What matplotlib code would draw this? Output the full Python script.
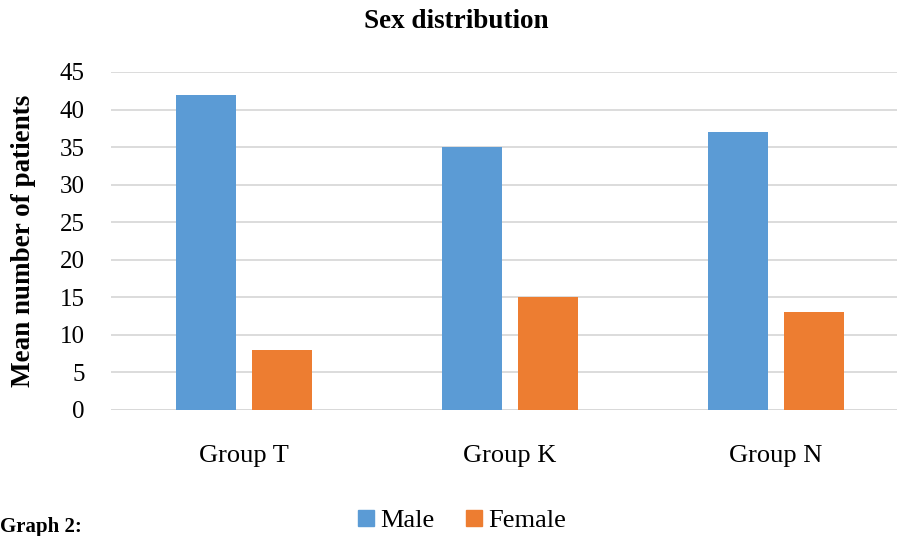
import numpy as np
import matplotlib.pyplot as plt
from matplotlib.patches import Patch

groups = ['Group T', 'Group K', 'Group N']
male = [42, 35, 37]
female = [8, 15, 13]

plt.rcParams['font.family'] = ['Liberation Serif', 'DejaVu Serif']

fig = plt.figure(figsize=(8.97, 5.36), dpi=100)
ax = fig.add_axes([111/897, 126/536, 798/897, 338/536])

x = np.arange(len(groups))
w = 0.229
off = 0.143
ax.bar(x - off, male, w, color='#5B9BD5', zorder=3)
ax.bar(x + off, female, w, color='#ED7D31', zorder=3)

ax.set_xlim(-0.5, 2.5)
ax.set_ylim(0, 45)
ax.set_yticks(range(0, 46, 5))
ax.set_xticks(x)
ax.set_xticklabels(groups, fontsize=19)
ax.tick_params(axis='y', labelsize=18, length=0, pad=19)
ax.tick_params(axis='x', length=0, pad=25)
ax.grid(axis='y', color='#D9D9D9', linewidth=1.3, zorder=0)
for s in ax.spines.values():
    s.set_visible(False)
ax.axhline(0, color='#D9D9D9', linewidth=1.3, zorder=1)

fig.text(456/897, 1 - 22/536, 'Sex distribution', ha='center', va='center',
         fontsize=19.5, fontweight='bold')
fig.text(24/897, 1 - 241/536, 'Mean number of patients', ha='center', va='center',
         rotation=90, fontsize=19.5, fontweight='bold')
fig.text(0, 1 - 527/536, 'Graph 2:', ha='left', va='center',
         fontsize=15, fontweight='bold')

handles = [Patch(color='#5B9BD5', label='Male'), Patch(color='#ED7D31', label='Female')]
fig.legend(handles=handles, loc='center', bbox_to_anchor=(462/897, 1 - 521/536),
           ncol=2, frameon=False, fontsize=19, handlelength=0.6, handleheight=0.6,
           handletextpad=0.25, columnspacing=1.2, borderpad=0)

fig.savefig('out.png', dpi=100)
